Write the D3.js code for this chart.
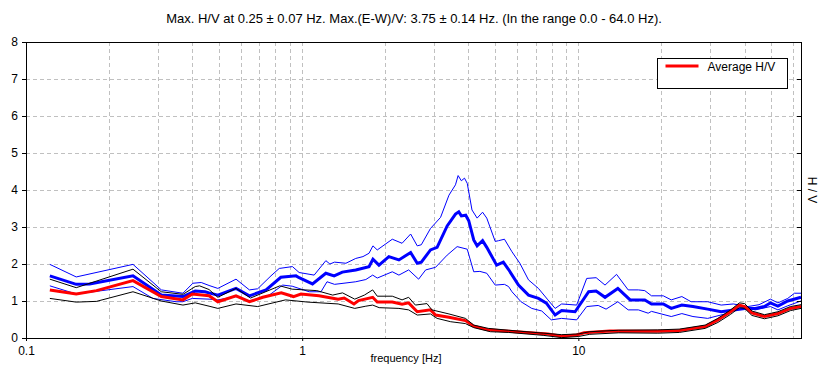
<!DOCTYPE html>
<html>
  <head>
    <meta charset="UTF-8">
    <title>H/V spectral ratio</title>
    <script src="https://d3js.org/d3.v7.min.js"></script>
    <style>
      body { margin: 0; background: #fff; }
      text { font-family: Arial, "Liberation Sans", sans-serif; fill: #000; }
      .grid line { stroke: #c0c0c0; stroke-dasharray: 4,3; }
    </style>
  </head>
  <body>
    <div id="chart"></div>
    <script>
      // readings [frequency Hz, H/V]
      const ewUpper = [[0.122,1.99],[0.152,1.65],[0.244,1.99],[0.309,1.30],[0.37,1.21],[0.402,1.48],[0.431,1.50],[0.46,1.42],[0.495,1.34],[0.576,1.59],[0.644,1.30],[0.69,1.33],[0.771,1.68],[0.826,1.88],[0.922,1.93],[0.975,1.77],[1.105,1.70],[1.218,2.09],[1.26,2.0],[1.31,2.05],[1.44,2.02],[1.563,2.15],[1.66,2.20],[1.746,2.29],[1.804,2.49],[1.87,2.38],[2.12,2.67],[2.30,2.56],[2.47,2.81],[2.61,2.49],[2.70,2.52],[2.915,2.96],[3.17,3.26],[3.40,3.86],[3.59,4.14],[3.67,4.39],[3.77,4.25],[3.87,4.32],[3.96,4.18],[4.12,3.46],[4.30,3.24],[4.50,3.40],[4.66,3.24],[5.00,2.61],[5.14,2.63],[5.40,2.67],[5.75,2.33],[6.14,2.02],[6.60,1.57],[7.17,1.34],[7.76,1.03],[8.24,0.80],[8.70,0.92],[9.86,0.89],[10.72,1.61],[11.6,1.63],[12.49,1.43],[13.75,1.72],[15.15,1.30],[16.5,1.30],[17.4,1.28],[18.4,1.14],[20.3,1.14],[21.7,1.03],[23.7,1.12],[25.6,0.98],[29.4,0.98],[32.9,0.89],[36.4,0.92],[41.1,0.85],[45.1,0.90],[49.6,1.05],[52.8,0.95],[57.3,1.07],[60.6,1.21],[64,1.21]];
      const ewMean = [[0.122,1.68],[0.152,1.45],[0.17,1.46],[0.244,1.68],[0.309,1.16],[0.37,1.12],[0.41,1.27],[0.445,1.25],[0.46,1.22],[0.495,1.16],[0.576,1.34],[0.644,1.14],[0.74,1.30],[0.837,1.64],[0.95,1.68],[0.975,1.63],[1.09,1.46],[1.218,1.75],[1.305,1.68],[1.398,1.78],[1.563,1.84],[1.746,1.93],[1.804,2.13],[1.897,1.97],[2.06,2.20],[2.24,2.11],[2.47,2.31],[2.61,2.02],[2.70,2.05],[2.915,2.38],[3.08,2.45],[3.35,3.03],[3.59,3.35],[3.69,3.41],[3.77,3.30],[3.91,3.32],[4.01,3.17],[4.18,2.65],[4.30,2.49],[4.50,2.63],[4.66,2.45],[5.06,1.97],[5.35,2.05],[5.59,1.85],[6.07,1.43],[6.60,1.16],[7.17,1.07],[7.66,0.94],[8.24,0.62],[8.70,0.74],[9.73,0.71],[10.9,1.25],[11.6,1.27],[12.49,1.10],[13.9,1.34],[15.4,1.03],[16.5,1.03],[17.4,1.03],[18.4,0.92],[20.3,0.92],[21.7,0.80],[23.7,0.89],[26.0,0.85],[29.4,0.78],[32.9,0.71],[40,0.80],[43.7,0.80],[47.2,0.85],[49.6,0.95],[52.8,0.86],[57.3,1.00],[64,1.10]];
      const ewLower = [[0.122,1.41],[0.152,1.19],[0.244,1.39],[0.288,1.07],[0.35,0.98],[0.37,0.98],[0.40,1.07],[0.46,1.05],[0.495,1.03],[0.576,1.12],[0.644,1.00],[0.76,1.16],[0.85,1.43],[0.92,1.40],[1.06,1.25],[1.17,1.25],[1.23,1.52],[1.31,1.45],[1.563,1.52],[1.70,1.58],[1.80,1.70],[1.87,1.62],[2.12,1.79],[2.24,1.70],[2.43,1.84],[2.64,1.59],[2.80,1.84],[3.04,1.91],[3.35,2.24],[3.64,2.47],[3.96,2.40],[4.18,1.79],[4.40,1.80],[4.66,1.75],[5.00,1.43],[5.40,1.45],[5.59,1.39],[5.75,1.25],[6.20,0.98],[6.78,0.80],[7.37,0.73],[7.98,0.49],[8.70,0.53],[9.86,0.49],[10.72,0.85],[11.8,0.88],[12.6,0.78],[13.9,0.98],[15.15,0.76],[16.5,0.76],[17.9,0.67],[18.4,0.72],[21.7,0.58],[23.7,0.66],[26.0,0.58],[29.4,0.53],[34,0.65],[38.3,0.85],[43.7,0.76],[49.6,0.85],[52.8,0.76],[57.3,0.87],[64,1.0]];
      const hvUpper = [[0.122,1.59],[0.152,1.36],[0.244,1.86],[0.309,1.25],[0.37,1.18],[0.41,1.39],[0.425,1.41],[0.46,1.31],[0.495,1.10],[0.576,1.34],[0.65,1.08],[0.83,1.41],[0.92,1.32],[1.13,1.28],[1.29,1.16],[1.40,1.22],[1.55,1.05],[1.68,1.16],[1.80,1.30],[1.87,1.13],[2.12,1.13],[2.30,1.03],[2.43,1.10],[2.57,0.89],[2.83,0.93],[2.95,0.76],[3.40,0.65],[3.90,0.53],[4.18,0.35],[4.72,0.26],[5.59,0.21],[7.5,0.13],[8.7,0.09],[10,0.11],[11,0.17],[14,0.21],[19.4,0.22],[23.2,0.24],[28.8,0.35],[32,0.53],[35.6,0.76],[38.3,0.95],[40,0.93],[42.5,0.73],[47.2,0.63],[52.8,0.71],[58.6,0.85],[64,0.90]];
      const hvMean = [[0.122,1.30],[0.152,1.19],[0.18,1.28],[0.244,1.55],[0.309,1.12],[0.37,1.03],[0.40,1.19],[0.46,1.14],[0.495,0.98],[0.576,1.14],[0.644,0.98],[0.72,1.10],[0.84,1.22],[0.93,1.12],[0.99,1.19],[1.15,1.14],[1.35,1.05],[1.42,1.08],[1.54,0.92],[1.60,1.01],[1.80,1.10],[1.87,0.97],[2.12,0.97],[2.30,0.91],[2.43,0.95],[2.61,0.71],[2.915,0.76],[3.04,0.62],[3.40,0.56],[3.90,0.47],[4.18,0.32],[4.7,0.22],[5.6,0.18],[7.76,0.11],[8.7,0.05],[9.86,0.08],[10.5,0.14],[13,0.19],[17.9,0.18],[19.4,0.18],[23.2,0.20],[28.8,0.31],[32,0.49],[35.6,0.71],[38.3,0.89],[40,0.85],[42.5,0.68],[47.2,0.58],[52.8,0.66],[58.6,0.80],[64,0.85]];
      const hvLower = [[0.122,1.07],[0.152,0.97],[0.18,0.99],[0.244,1.25],[0.309,1.00],[0.37,0.89],[0.41,0.95],[0.46,0.86],[0.495,0.80],[0.576,0.92],[0.69,0.85],[0.87,1.03],[1.05,0.97],[1.35,0.92],[1.55,0.80],[1.70,0.86],[1.80,0.89],[1.90,0.82],[2.24,0.80],[2.43,0.76],[2.61,0.62],[2.915,0.65],[3.08,0.53],[3.45,0.44],[3.90,0.39],[4.18,0.28],[4.8,0.17],[5.59,0.15],[7.5,0.07],[8.7,0.01],[10,0.04],[11,0.10],[14,0.14],[19.4,0.13],[23.2,0.15],[28.8,0.26],[32,0.42],[35.6,0.64],[38.3,0.82],[40,0.80],[42.5,0.61],[47.2,0.52],[52.8,0.60],[58.6,0.74],[64,0.80]];

      const xTicks = [0.1, 1, 10];
      const xGrid = [0.2,0.3,0.4,0.5,0.6,0.7,0.8,0.9,1,2,3,4,5,6,7,8,9,10,20,30,40,50,60];
      const yTicks = [0,1,2,3,4,5,6,7,8];

      const titleText = "Max. H/V at 0.25 \u00b1 0.07 Hz. Max.(E-W)/V: 3.75 \u00b1 0.14 Hz. (In the range 0.0 - 64.0 Hz).";

      const width = 826, height = 381;
      const margin = { top: 42, right: 25, bottom: 43, left: 26 };
      const innerW = width - margin.left - margin.right;
      const innerH = height - margin.top - margin.bottom;

      const svg = d3.select("#chart").append("svg")
        .attr("width", width)
        .attr("height", height);

      const g = svg.append("g")
        .attr("transform", `translate(${margin.left},${margin.top})`);

      const x = d3.scaleLog().domain([0.1, 64]).range([0, innerW]);
      const y = d3.scaleLinear().domain([0, 8]).range([innerH, 0]);

      // grid
      g.append("g").attr("class", "grid")
        .selectAll("line").data(xGrid).join("line")
        .attr("x1", d => Math.round(x(d)) + 0.5).attr("x2", d => Math.round(x(d)) + 0.5)
        .attr("y1", 0).attr("y2", innerH);
      g.append("g").attr("class", "grid")
        .selectAll("line").data(yTicks.slice(1, -1)).join("line")
        .attr("x1", 0).attr("x2", innerW)
        .attr("y1", d => Math.round(y(d)) + 0.5).attr("y2", d => Math.round(y(d)) + 0.5);

      // curves
      const line = d3.line().x(d => x(d[0])).y(d => y(d[1]));
      const series = [
        { data: ewUpper, color: "#0000ff", w: 1 },
        { data: ewLower, color: "#0000ff", w: 1 },
        { data: ewMean, color: "#0000ff", w: 3 },
        { data: hvMean, color: "#ff0000", w: 3 },
        { data: hvUpper, color: "#000000", w: 1 },
        { data: hvLower, color: "#000000", w: 1 }
      ];
      g.append("g").selectAll("path").data(series).join("path")
        .attr("d", d => line(d.data))
        .attr("fill", "none")
        .attr("stroke", d => d.color)
        .attr("stroke-width", d => d.w)
        .attr("stroke-linejoin", "miter");

      // frame
      g.append("rect")
        .attr("x", 0.5).attr("y", 0.5)
        .attr("width", innerW).attr("height", innerH)
        .attr("fill", "none").attr("stroke", "#000").attr("stroke-width", 1);

      // axes
      g.append("g")
        .attr("transform", `translate(0,${innerH})`)
        .call(d3.axisBottom(x).tickValues(xTicks).tickFormat(d3.format("")).tickSize(3))
        .call(a => a.select(".domain").remove())
        .call(a => a.selectAll("text").attr("font-size", 12).attr("dy", "0.9em"));

      g.append("g")
        .call(d3.axisLeft(y).tickValues(yTicks).tickSize(4).tickPadding(4))
        .call(a => a.select(".domain").remove())
        .call(a => a.selectAll("text").attr("font-size", 12));

      g.append("g")
        .attr("transform", `translate(${innerW},0)`)
        .call(d3.axisLeft(y).tickValues(yTicks).tickSize(4).tickFormat(""))
        .call(a => a.select(".domain").remove());

      // labels
      svg.append("text")
        .attr("x", 414).attr("y", 23)
        .attr("text-anchor", "middle")
        .attr("font-size", 13)
        .text(titleText);

      svg.append("text")
        .attr("x", 406).attr("y", 362)
        .attr("text-anchor", "middle")
        .attr("font-size", 11)
        .text("frequency [Hz]");

      svg.append("text")
        .attr("transform", `translate(808,190) rotate(90)`)
        .attr("text-anchor", "middle")
        .attr("font-size", 12)
        .text("H / V");

      // legend
      const legend = svg.append("g").attr("transform", "translate(657.5,58.5)");
      legend.append("rect")
        .attr("width", 130).attr("height", 30)
        .attr("fill", "#fff").attr("stroke", "#000");
      legend.append("line")
        .attr("x1", 8).attr("x2", 41).attr("y1", 7.5).attr("y2", 7.5)
        .attr("stroke", "#ff0000").attr("stroke-width", 3);
      legend.append("text")
        .attr("x", 50).attr("y", 12)
        .attr("font-size", 12)
        .text("Average H/V");
    </script>
  </body>
</html>
